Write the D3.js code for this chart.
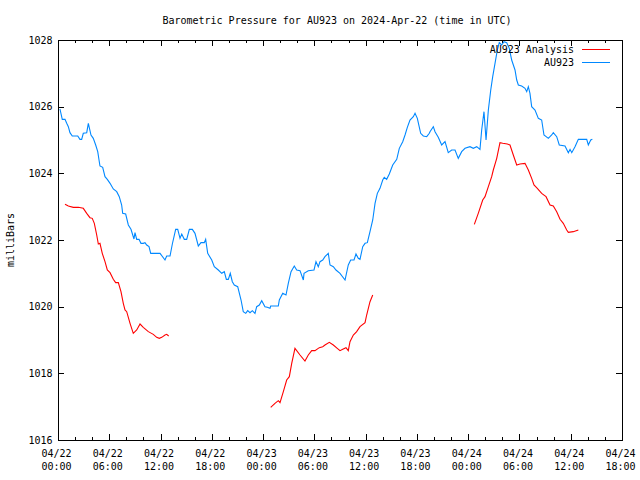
<!DOCTYPE html>
<html>
<head>
<meta charset="utf-8">
<script src="https://cdn.jsdelivr.net/npm/d3@7"></script>
<style>
  html, body { margin: 0; padding: 0; background: #fff; }
  svg { display: block; }
  text { font-family: "DejaVu Sans Mono", "Liberation Mono", monospace; font-size: 10px; fill: #000; }
</style>
</head>
<body>
<svg id="chart" width="640" height="480"></svg>
<script>
// ---- data (hours since 2024-04-22 00:00 UTC, pressure in mb) ----
const startTime = Date.UTC(2024, 3, 22, 0, 0);
const endTime = Date.UTC(2024, 3, 24, 18, 0);

const blueHours = [0.23,0.50,0.82,1.02,1.21,1.40,1.67,2.31,2.57,2.77,2.96,3.36,3.55,3.86,4.13,4.41,4.65,4.80,4.91,5.23,5.50,5.77,6.09,6.47,6.87,7.17,7.45,7.57,7.92,8.23,8.54,8.89,9.01,9.21,9.48,9.71,9.98,10.18,10.38,10.65,10.85,11.94,12.52,12.72,13.11,13.38,13.77,14.01,14.28,14.48,14.78,15.06,15.37,15.72,16.03,16.42,16.73,17.12,17.28,17.52,17.99,18.29,18.76,19.16,19.46,19.70,19.93,20.16,20.40,20.63,21.03,21.42,21.68,21.97,22.20,22.47,22.74,23.05,23.25,23.56,23.84,24.22,24.49,24.81,24.89,25.78,25.90,26.30,26.68,26.95,27.27,27.65,27.93,28.32,28.71,28.79,29.29,29.96,30.19,30.46,30.66,30.98,31.24,31.63,31.83,32.22,32.53,33.00,33.59,33.97,34.25,34.64,34.87,35.14,35.34,35.66,35.93,36.20,36.51,36.83,37.10,37.37,37.68,38.00,38.18,38.46,38.77,39.17,39.64,39.94,40.34,40.61,40.88,41.19,41.58,41.78,42.05,42.44,42.75,43.15,43.45,43.53,43.92,44.12,44.50,44.90,45.29,45.67,46.07,46.46,46.84,47.24,47.63,48.21,48.60,49.00,49.38,49.58,49.85,50.09,50.36,50.64,50.87,51.14,51.41,51.64,51.92,52.19,52.51,52.81,53.09,53.48,53.68,53.87,54.26,54.65,54.85,55.04,55.23,55.43,55.82,56.21,56.60,56.87,57.38,57.77,57.96,58.36,58.66,59.33,59.72,59.92,60.12,60.50,60.89,61.87,62.06,62.34,62.53];
const blueValues = [1025.93,1025.62,1025.62,1025.50,1025.40,1025.22,1025.12,1025.12,1025.02,1025.02,1025.20,1025.22,1025.50,1025.15,1025.05,1024.85,1024.65,1024.40,1024.22,1024.18,1023.90,1023.82,1023.70,1023.53,1023.45,1023.30,1023.05,1022.80,1022.78,1022.45,1022.32,1022.03,1022.22,1022.02,1022.02,1021.90,1021.90,1021.92,1021.85,1021.80,1021.60,1021.60,1021.40,1021.52,1021.52,1021.88,1022.32,1022.32,1022.05,1022.18,1022.02,1022.02,1022.32,1022.32,1022.20,1021.82,1021.92,1021.92,1022.02,1021.60,1021.40,1021.20,1021.10,1021.00,1021.05,1020.82,1020.82,1021.00,1020.75,1020.65,1020.60,1020.20,1019.85,1019.80,1019.88,1019.82,1019.88,1019.80,1020.00,1020.05,1020.18,1020.00,1019.98,1019.95,1020.02,1020.02,1020.20,1020.40,1020.35,1020.70,1021.05,1021.22,1021.10,1021.08,1020.80,1021.00,1021.08,1021.10,1021.35,1021.20,1021.35,1021.40,1021.50,1021.60,1021.25,1021.20,1021.10,1021.00,1020.80,1021.25,1021.40,1021.40,1021.58,1021.45,1021.42,1021.80,1021.90,1021.92,1022.25,1022.60,1023.10,1023.40,1023.55,1023.80,1023.88,1023.82,1023.98,1024.25,1024.42,1024.75,1024.95,1025.15,1025.38,1025.60,1025.70,1025.80,1025.65,1025.20,1025.12,1025.10,1025.20,1025.25,1025.40,1025.25,1025.08,1024.85,1024.95,1024.62,1024.70,1024.70,1024.45,1024.65,1024.75,1024.80,1024.75,1024.80,1024.72,1025.30,1025.85,1025.00,1025.90,1026.50,1026.90,1027.30,1027.70,1027.92,1027.85,1027.95,1027.92,1027.75,1027.40,1027.10,1026.80,1026.65,1026.62,1026.55,1026.45,1026.60,1026.40,1026.00,1025.90,1025.65,1025.60,1025.15,1025.05,1025.15,1025.22,1025.10,1024.85,1024.82,1024.62,1024.72,1024.62,1024.80,1025.02,1025.02,1024.85,1025.00,1025.02];

// null marks a gap between analysis runs
const redHours = [0.82,1.21,1.79,2.38,2.96,3.36,3.74,4.01,4.25,4.53,4.72,4.91,5.18,5.50,5.77,6.09,6.47,6.75,7.06,7.37,7.64,7.84,8.04,8.43,8.81,9.21,9.60,9.98,10.57,11.15,11.55,11.85,12.14,12.52,12.72,12.95,
  null,
  24.89,25.39,25.78,25.98,26.37,26.76,27.07,27.35,27.73,28.32,28.90,29.29,29.69,30.07,30.58,30.98,31.24,31.75,32.22,32.68,33.00,33.32,33.70,33.97,34.17,34.56,34.95,35.34,35.93,36.12,36.51,36.83,
  null,
  48.72,49.18,49.70,49.97,50.36,50.75,50.94,51.34,51.72,52.04,52.58,52.89,53.28,53.68,54.06,54.65,55.04,55.43,55.70,56.09,56.60,57.11,57.58,57.96,58.36,58.75,59.13,59.53,59.72,60.30,60.89];
const redValues = [1023.07,1023.02,1022.98,1022.98,1022.95,1022.80,1022.67,1022.65,1022.50,1022.15,1021.88,1021.90,1021.60,1021.35,1021.10,1021.02,1020.82,1020.72,1020.72,1020.45,1020.10,1019.90,1019.85,1019.50,1019.20,1019.30,1019.48,1019.38,1019.25,1019.17,1019.08,1019.05,1019.08,1019.15,1019.17,1019.12,
  null,
  1016.98,1017.10,1017.18,1017.12,1017.45,1017.80,1017.90,1018.30,1018.75,1018.55,1018.37,1018.55,1018.68,1018.68,1018.77,1018.80,1018.85,1018.93,1018.85,1018.75,1018.68,1018.72,1018.77,1018.68,1018.95,1019.15,1019.25,1019.40,1019.52,1019.75,1020.15,1020.35,
  null,
  1022.47,1022.80,1023.20,1023.30,1023.60,1023.90,1024.10,1024.45,1024.92,1024.90,1024.88,1024.85,1024.55,1024.25,1024.28,1024.30,1024.10,1023.85,1023.65,1023.55,1023.40,1023.30,1023.05,1023.02,1022.85,1022.62,1022.50,1022.30,1022.23,1022.25,1022.30];

const yTicks = [1016, 1018, 1020, 1022, 1024, 1026, 1028];
const xMajorHours = [0, 6, 12, 18, 24, 30, 36, 42, 48, 54, 60, 66];
const xMinorHours = d3.range(0, 67, 2);
const titleText = "Barometric Pressure for AU923 on 2024-Apr-22 (time in UTC)";
const yLabel = "milliBars";
const seriesNames = ["AU923 Analysis", "AU923"];
const seriesColors = ["#ff0000", "#0088ff"];

// ---- layout ----
const L = 58, R = 622, T = 40, B = 440;
const svg = d3.select("#chart");
const hToDate = h => new Date(startTime + h * 3600e3);

const x = d3.scaleUtc().domain([new Date(startTime), new Date(endTime)]).range([L, R]);
const y = d3.scaleLinear().domain([1016, 1028]).range([B, T]);

const fmtDate = d3.utcFormat("%m/%d");
const fmtTime = d3.utcFormat("%H:%M");

// minor ticks (bottom & top)
svg.append("g").attr("transform", `translate(0,${B})`)
  .call(d3.axisBottom(x).tickValues(xMinorHours.map(hToDate)).tickSize(-3).tickFormat(""))
  .call(g => g.select(".domain").remove());
svg.append("g").attr("transform", `translate(0,${T})`)
  .call(d3.axisTop(x).tickValues(xMinorHours.map(hToDate)).tickSize(-3).tickFormat(""))
  .call(g => g.select(".domain").remove());

// major bottom axis with two-line labels
const gx = svg.append("g").attr("transform", `translate(0,${B})`)
  .call(d3.axisBottom(x).tickValues(xMajorHours.map(hToDate)).tickSize(-6).tickFormat(""))
  .call(g => g.select(".domain").remove());
gx.selectAll(".tick").each(function(d) {
  const t = d3.select(this).append("text").attr("text-anchor", "middle")
    .style("font-family", "DejaVu Sans Mono").style("font-size", "10px").attr("fill", "#000");
  t.append("tspan").attr("x", -2).attr("y", 17).text(fmtDate(d));
  t.append("tspan").attr("x", -2).attr("y", 30).text(fmtTime(d));
});
svg.append("g").attr("transform", `translate(0,${T})`)
  .call(d3.axisTop(x).tickValues(xMajorHours.map(hToDate)).tickSize(-6).tickFormat(""))
  .call(g => g.select(".domain").remove());

// y axes
svg.append("g").attr("transform", `translate(${L},0)`)
  .call(d3.axisLeft(y).tickValues(yTicks).tickSize(-6).tickPadding(5.5).tickFormat(d3.format("d")))
  .call(g => g.select(".domain").remove())
  .call(g => g.selectAll("text").style("font-family", "DejaVu Sans Mono").style("font-size", "10px").attr("fill", "#000"));
svg.append("g").attr("transform", `translate(${R},0)`)
  .call(d3.axisRight(y).tickValues(yTicks).tickSize(-6).tickFormat(""))
  .call(g => g.select(".domain").remove());

svg.selectAll(".tick line").attr("stroke", "#000").attr("shape-rendering", "crispEdges");

// frame
svg.append("rect").attr("x", L + 0.5).attr("y", T + 0.5)
  .attr("width", R - L - 1 + 1).attr("height", B - T)
  .attr("fill", "none").attr("stroke", "#000").attr("shape-rendering", "crispEdges");

// lines
const redData = redHours.map((h, i) => ({ h, v: redValues[i] }));
const blueData = blueHours.map((h, i) => ({ h, v: blueValues[i] }));
const line = d3.line()
  .defined(d => d.h != null && d.v != null)
  .x(d => x(hToDate(d.h)))
  .y(d => y(d.v));

svg.append("path").datum(redData).attr("d", line)
  .attr("fill", "none").attr("stroke", seriesColors[0]).attr("stroke-width", 1.1);
svg.append("path").datum(blueData).attr("d", line)
  .attr("fill", "none").attr("stroke", seriesColors[1]).attr("stroke-width", 1.1);

// title
svg.append("text").attr("x", 337).attr("y", 23.5).attr("text-anchor", "middle").text(titleText);

// y label
svg.append("text").attr("transform", "translate(14,240) rotate(-90)")
  .attr("text-anchor", "middle").text(yLabel);

// legend
seriesNames.forEach((name, i) => {
  const ly = 49 + i * 13;
  svg.append("text").attr("x", 574).attr("y", ly + 4).attr("text-anchor", "end").text(name);
  svg.append("line").attr("x1", 582).attr("x2", 610).attr("y1", ly + 0.5).attr("y2", ly + 0.5)
    .attr("stroke", seriesColors[i]).attr("stroke-width", 1).attr("shape-rendering", "crispEdges");
});
</script>
</body>
</html>
